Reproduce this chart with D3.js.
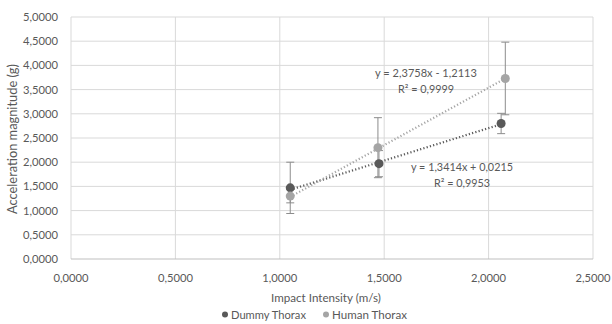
<!DOCTYPE html>
<html lang="en">
<head>
  <meta charset="UTF-8">
  <title>Acceleration vs impact intensity</title>
  <script src="https://d3js.org/d3.v7.min.js"></script>
  <style>
    body { margin: 0; background: #fff; }
    svg { display: block; font-family: Lato, 'Noto Sans', sans-serif; }
  </style>
</head>
<body>
  <svg id="chart" width="612" height="324"></svg>
  <script>
    // data
    const seriesNames = ["Dummy Thorax", "Human Thorax"];
    const dummyX = [1.05, 1.475, 2.06];
    const dummyY = [1.47, 1.97, 2.80];
    const dummyErr = [0.53, 0.27, 0.21];
    const humanX = [1.05, 1.47, 2.08];
    const humanY = [1.30, 2.30, 3.73];
    const humanErr = [0.14, 0.62, 0.75];
    const trendSlope = [1.3414, 2.3758];
    const trendIntercept = [0.0215, -1.2113];
    const trendLabels = [
      ["y = 1,3414x + 0,0215", "R\u00b2 = 0,9953"],
      ["y = 2,3758x - 1,2113", "R\u00b2 = 0,9999"]
    ];
    const xTicks = [0, 0.5, 1, 1.5, 2, 2.5];
    const yTicks = [0, 0.5, 1, 1.5, 2, 2.5, 3, 3.5, 4, 4.5, 5];

    const colors = ["#595959", "#a5a5a5"];
    const textColor = "#595959";
    const svg = d3.select("#chart");
    const x = d3.scaleLinear().domain([0, 2.5]).range([71, 593]);
    const y = d3.scaleLinear().domain([0, 5]).range([259, 17]);
    const fmt = v => d3.format(".4f")(v).replace(".", ",");

    // scale a text's font so that it is about `w` px wide
    function fitWidth(sel, w) {
      sel.each(function () {
        const cur = parseFloat(this.getAttribute("font-size"));
        const len = this.getComputedTextLength();
        if (len > 0) this.setAttribute("font-size", (cur * w / len).toFixed(2));
      });
    }

    // gridlines
    svg.append("g").selectAll("line").data(yTicks.slice(1)).join("line")
      .attr("x1", x(0)).attr("x2", x(2.5))
      .attr("y1", d => y(d)).attr("y2", d => y(d))
      .attr("stroke", "#d9d9d9").attr("stroke-width", 1);
    svg.append("g").selectAll("line").data(xTicks).join("line")
      .attr("x1", d => x(d)).attr("x2", d => x(d))
      .attr("y1", y(0)).attr("y2", y(5))
      .attr("stroke", "#d9d9d9").attr("stroke-width", 1);
    svg.append("line")
      .attr("x1", x(0)).attr("x2", x(2.5)).attr("y1", y(0)).attr("y2", y(0))
      .attr("stroke", "#bfbfbf");

    // tick labels
    svg.append("g").selectAll("text").data(yTicks).join("text")
      .attr("x", 58).attr("y", d => y(d) + 4)
      .attr("text-anchor", "end").attr("font-size", 11.5).attr("fill", textColor)
      .text(fmt).call(fitWidth, 35);
    svg.append("g").selectAll("text").data(xTicks).join("text")
      .attr("x", d => x(d)).attr("y", 282)
      .attr("text-anchor", "middle").attr("font-size", 11.5).attr("fill", textColor)
      .text(fmt).call(fitWidth, 35);

    // axis titles
    svg.append("text")
      .attr("x", 326).attr("y", 302).attr("text-anchor", "middle")
      .attr("font-size", 12).attr("fill", textColor)
      .text("Impact Intensity (m/s)").call(fitWidth, 110);
    svg.append("text")
      .attr("transform", "translate(17,139) rotate(-90)")
      .attr("text-anchor", "middle").attr("font-size", 12.5).attr("fill", textColor)
      .text("Acceleration magnitude (g)").call(fitWidth, 150);

    const series = [
      { xs: dummyX, ys: dummyY, err: dummyErr },
      { xs: humanX, ys: humanY, err: humanErr }
    ];

    // error bars
    series.forEach((s, k) => {
      const g = svg.append("g").attr("stroke", "#8c8c8c").attr("stroke-width", 1);
      s.xs.forEach((xv, i) => {
        const lo = s.ys[i] - s.err[i], hi = s.ys[i] + s.err[i];
        g.append("line").attr("x1", x(xv)).attr("x2", x(xv)).attr("y1", y(lo)).attr("y2", y(hi));
        [lo, hi].forEach(v => g.append("line")
          .attr("x1", x(xv) - 4).attr("x2", x(xv) + 4).attr("y1", y(v)).attr("y2", y(v)));
      });
    });

    // trendlines (dotted)
    series.forEach((s, k) => {
      const x0 = d3.min(s.xs), x1 = d3.max(s.xs);
      svg.append("line")
        .attr("x1", x(x0)).attr("y1", y(trendSlope[k] * x0 + trendIntercept[k]))
        .attr("x2", x(x1)).attr("y2", y(trendSlope[k] * x1 + trendIntercept[k]))
        .attr("stroke", colors[k]).attr("stroke-width", 2.2)
        .attr("stroke-dasharray", "1.2,2.2");
    });

    // markers
    series.forEach((s, k) => {
      svg.append("g").selectAll("circle").data(s.xs).join("circle")
        .attr("cx", d => x(d)).attr("cy", (d, i) => y(s.ys[i]))
        .attr("r", 4.5).attr("fill", colors[k]);
    });

    // trendline labels
    const labelPos = [[462, 171], [426, 77]];
    trendLabels.forEach((lines, k) => {
      lines.forEach((t, j) => {
        svg.append("text")
          .attr("x", labelPos[k][0]).attr("y", labelPos[k][1] + j * 16)
          .attr("text-anchor", "middle").attr("font-size", 11.5).attr("fill", textColor)
          .text(t).call(fitWidth, j === 0 ? 102 : 56);
      });
    });

    // legend
    const legX = [225, 326];
    seriesNames.forEach((name, k) => {
      svg.append("circle").attr("cx", legX[k]).attr("cy", 314.5).attr("r", 3)
        .attr("fill", colors[k]);
      svg.append("text").attr("x", legX[k] + 6).attr("y", 319)
        .attr("font-size", 11.5).attr("fill", textColor).text(name)
        .call(fitWidth, 75);
    });
  </script>
</body>
</html>
